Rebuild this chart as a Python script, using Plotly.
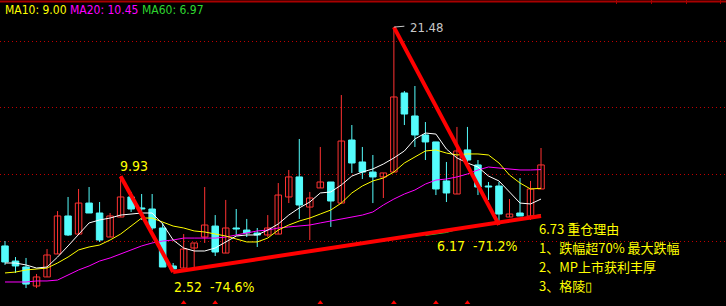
import math
import plotly.graph_objects as go

# ---------------- data ----------------
OPEN = [4.54, 3.37, 2.91, 1.44, 2.14, 3.92, 6.86, 5.46, 7.86, 7.09,
        5.23, 6.78, 8.33, 7.48, 7.40, 5.93, 2.99, 2.83, 4.38, 5.23,
        6.08, 3.99, 5.93, 5.77, 5.54, 5.39, 5.46, 8.33, 9.88, 7.55,
        9.03, 9.49, 7.86, 12.74, 11.04, 10.26, 9.88, 10.26, 16.38, 14.60,
        13.13, 12.59, 9.57, 8.56, 11.97, 10.81, 9.18, 9.18, 6.78, 7.09,
        6.86, 8.95]
HIGH = [4.92, 3.68, 3.61, 2.37, 4.30, 7.24, 8.33, 8.95, 9.10, 7.94,
        7.09, 9.93, 8.72, 8.56, 8.56, 6.32, 3.22, 5.46, 4.77, 9.10,
        6.93, 8.10, 7.40, 6.63, 5.93, 6.93, 9.41, 10.42, 12.82, 8.72,
        12.20, 9.49, 16.22, 13.90, 12.20, 11.58, 10.19, 21.48, 16.53, 16.92,
        14.13, 12.59, 11.04, 13.75, 13.75, 11.19, 9.49, 9.49, 8.17, 9.80,
        9.57, 12.12]
LOW = [3.07, 2.45, 1.28, 1.28, 2.14, 3.92, 5.31, 5.46, 7.09, 4.85,
       5.23, 6.78, 7.17, 6.55, 5.77, 2.91, 2.52, 2.83, 2.83, 4.77,
       3.76, 3.99, 5.39, 5.23, 4.46, 5.23, 5.46, 7.86, 6.63, 5.00,
       9.03, 6.01, 7.86, 10.19, 9.72, 7.86, 8.25, 10.26, 13.90, 12.20,
       11.19, 8.48, 7.94, 8.56, 10.81, 8.48, 8.10, 6.17, 6.78, 6.86,
       6.55, 8.95]
CLOSE = [3.30, 2.99, 1.59, 2.14, 3.84, 6.86, 5.39, 7.86, 7.09, 5.00,
         6.86, 8.33, 7.40, 7.40, 5.93, 2.91, 2.76, 4.30, 4.77, 6.16,
         4.07, 5.93, 5.85, 5.54, 5.39, 5.93, 8.48, 9.88, 7.71, 8.25,
         9.49, 8.02, 12.66, 10.96, 10.26, 9.88, 10.19, 16.07, 14.75, 13.13,
         12.59, 8.95, 8.64, 11.89, 11.19, 9.10, 9.10, 7.01, 7.01, 6.86,
         8.95, 10.81]

MA5 = [3.22, 3.22, 3.07, 2.83, 2.91, 3.68, 4.54, 5.39, 6.32, 6.55,
       6.70, 6.93, 7.01, 7.09, 7.09, 6.24, 5.00, 4.38, 4.15, 4.15,
       4.38, 4.85, 5.31, 5.39, 5.39, 5.77, 6.24, 6.93, 7.48, 7.94,
       8.64, 8.72, 9.26, 9.95, 10.26, 10.50, 10.88, 11.35, 11.89, 12.82,
       13.28, 13.20, 12.04, 11.35, 10.96, 10.65, 9.95, 9.57, 8.72, 7.86,
       7.79, 8.17]
MA10 = [2.45, 2.52, 2.68, 2.76, 2.83, 3.22, 3.68, 4.23, 4.46, 4.61,
        5.00, 5.46, 6.08, 6.70, 6.70, 6.39, 6.08, 5.93, 5.70, 5.62,
        5.46, 5.31, 5.08, 4.85, 4.85, 5.15, 5.77, 6.16, 6.47, 6.70,
        7.01, 7.32, 7.86, 8.64, 9.18, 9.57, 9.80, 10.26, 10.96, 11.42,
        11.89, 11.97, 11.73, 11.58, 11.66, 11.66, 11.58, 10.96, 10.03, 9.41,
        8.95, 9.00]
MA20 = [1.75, 1.75, 1.75, 1.83, 1.83, 1.90, 2.29, 2.68, 2.99, 3.37,
        3.61, 3.92, 4.23, 4.54, 4.77, 4.92, 5.00, 5.15, 5.15, 5.15,
        5.15, 5.23, 5.39, 5.54, 5.70, 5.77, 5.93, 6.01, 6.08, 6.16,
        6.32, 6.47, 6.63, 6.78, 6.93, 7.17, 7.71, 8.17, 8.56, 8.87,
        9.33, 9.64, 9.72, 9.88, 10.11, 10.42, 10.65, 10.57, 10.50, 10.42,
        10.42, 10.45]
MA60_START = 40
MA60 = [5.35, 5.46, 5.58, 5.81, 5.97, 6.12, 6.24, 6.35, 6.51, 6.66, 6.82, 6.97]

GRID_PRICES = [4.92, 10.07, 15.22, 20.33]
TOP_TICKS = [58.2, 61.5, 64.8, 68.1]
EVENT_IDX = [17, 20, 30, 37, 41, 44]

TREND_X = [[11, 16], [16, 51], [37, 47]]
TREND_Y = [[9.93, 2.52], [2.52, 6.86], [21.48, 6.17]]

NOTE_LINES = ["6.73 重仓理由", "1、跌幅超70% 最大跌幅", "2、MP上市获利丰厚", "3、格陵▯"]

# ---------------- styles ----------------
RED = "#ff3232"
CYAN = "#54fcfc"
YELLOW = "#ffff00"
MAGENTA = "#ff00ff"
GREEN = "#2fd52f"
TREND = "#ff0000"
GRIDC = "#c00000"
FONT = "Liberation Sans Narrow, DejaVu Sans Condensed, Arial Narrow, Liberation Sans, Noto Sans CJK SC, sans-serif"
CJK = "Noto Sans CJK SC, sans-serif"

W, H = 726, 306
X_RANGE = [-0.476, 68.6]
Y_RANGE = [-0.108, 23.576]

idx = list(range(len(OPEN)))
up = [i for i in idx if CLOSE[i] >= OPEN[i]]
dn = [i for i in idx if CLOSE[i] < OPEN[i]]


def wick(ids):
    xs, ys = [], []
    for i in ids:
        xs += [i, i, None]
        ys += [HIGH[i], LOW[i], None]
    return xs, ys


def body(ids):
    base = [min(OPEN[i], CLOSE[i]) for i in ids]
    hgt = [max(abs(CLOSE[i] - OPEN[i]), 0.05) for i in ids]
    return base, hgt


fig = go.Figure()
for ids, col in ((up, RED), (dn, CYAN)):
    xs, ys = wick(ids)
    fig.add_trace(go.Scatter(x=xs, y=ys, mode="lines", line=dict(color=col, width=1),
                             hoverinfo="skip"))
bu, hu = body(up)
fig.add_trace(go.Bar(x=up, y=hu, base=bu, width=0.62,
                     marker=dict(color="black", line=dict(color=RED, width=1))))
bd, hd = body(dn)
fig.add_trace(go.Bar(x=dn, y=hd, base=bd, width=0.62,
                     marker=dict(color=CYAN, line=dict(color=CYAN, width=1))))

fig.add_trace(go.Scatter(x=list(range(MA60_START, MA60_START + len(MA60))), y=MA60,
                         mode="lines", line=dict(color=GREEN, width=1)))
fig.add_trace(go.Scatter(x=idx, y=MA20, mode="lines", line=dict(color=MAGENTA, width=1)))
fig.add_trace(go.Scatter(x=idx, y=MA10, mode="lines", line=dict(color=YELLOW, width=1)))
fig.add_trace(go.Scatter(x=idx, y=MA5, mode="lines", line=dict(color="white", width=1)))

tx, ty = [], []
for a, b in zip(TREND_X, TREND_Y):
    tx += a + [None]
    ty += b + [None]
fig.add_trace(go.Scatter(x=tx, y=ty, mode="lines", line=dict(color=TREND, width=4)))

fig.add_trace(go.Scatter(x=EVENT_IDX, y=[Y_RANGE[0] + 0.25] * len(EVENT_IDX), mode="markers",
                         marker=dict(symbol="triangle-up", size=5, color=TREND)))

ann = []
# legend text
leg = [("MA10", MA10[-1], YELLOW, 3), ("MA20", MA20[-1], MAGENTA, 68), ("MA60", MA60[-1], GREEN, 140)]
for name, v, col, px in leg:
    ann.append(dict(xref="paper", yref="paper", x=px / W, y=1 - 10 / H, xanchor="left", yanchor="middle",
                    text=f"{name}: {v:.2f}", showarrow=False, font=dict(family=FONT, size=12, color=col)))


def pct(a, b):
    return math.trunc((b / a - 1) * 1000) / 10


ann.append(dict(x=11, y=HIGH[11], xanchor="left", yanchor="middle", xshift=-3, yshift=10,
                text=f"{HIGH[11]:.2f}", showarrow=False, font=dict(family=FONT, size=14, color=YELLOW)))
ann.append(dict(x=16, y=LOW[16], xanchor="left", yanchor="middle", xshift=-1, yshift=-15,
                text=f"{LOW[16]:.2f}  {pct(HIGH[11], LOW[16]):.1f}%", showarrow=False,
                font=dict(family=FONT, size=14, color=YELLOW)))
ann.append(dict(x=47, y=LOW[47], xanchor="left", yanchor="middle", xshift=-64, yshift=-21,
                text=f"{LOW[47]:.2f}  {pct(HIGH[37], LOW[47]):.1f}%", showarrow=False,
                font=dict(family=FONT, size=14, color=YELLOW)))
ann.append(dict(x=37, y=HIGH[37], xanchor="left", yanchor="middle", xshift=14, yshift=0,
                text=f"{HIGH[37]:.2f}", showarrow=False, font=dict(family=FONT, size=13, color="#c8c8c8")))
ann.append(dict(x=37, y=HIGH[37], ax=12, ay=-1, axref="pixel", ayref="pixel", text="",
                showarrow=True, arrowhead=0, arrowwidth=1, arrowcolor="#c8c8c8"))

# note block: one line per text, spaced so the text boxes do not collide
NOTE_TOP, NOTE_STEP = 228, 19
for k, line in enumerate(NOTE_LINES):
    ann.append(dict(xref="paper", yref="paper", x=538 / W, y=1 - (NOTE_TOP + NOTE_STEP * k) / H,
                    xanchor="left", yanchor="middle", align="left", text=line,
                    showarrow=False, borderpad=0, font=dict(family=CJK, size=13, color=YELLOW)))

fig.update_layout(
    width=W, height=H, margin=dict(l=0, r=0, t=0, b=0, pad=0),
    paper_bgcolor="black", plot_bgcolor="black", showlegend=False, barmode="overlay",
    annotations=ann,
    shapes=[dict(type="line", xref="paper", yref="paper", x0=0, x1=1, y0=1 - 1.5 / H, y1=1 - 1.5 / H,
                 line=dict(color="#a80000", width=2))],
    xaxis=dict(range=X_RANGE, showgrid=False, zeroline=False, showline=False, side="top",
               tickvals=TOP_TICKS, ticks="inside", ticklen=4, tickcolor="#a80000", tickwidth=1,
               showticklabels=False, fixedrange=True),
    yaxis=dict(range=Y_RANGE, tickvals=GRID_PRICES, showticklabels=False, showgrid=True,
               gridcolor=GRIDC, griddash="1px,3px", gridwidth=1, zeroline=False, showline=False,
               ticks="", fixedrange=True),
)

fig.write_html("out.html")
